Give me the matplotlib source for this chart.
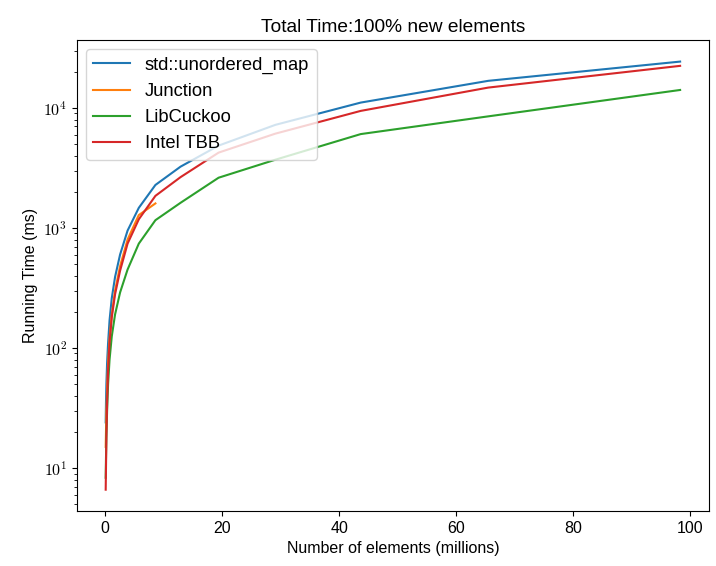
import matplotlib
matplotlib.use("Agg")
import matplotlib.pyplot as plt
from matplotlib.ticker import FuncFormatter
import numpy as np

plt.rcParams["font.family"] = ["Liberation Sans", "DejaVu Sans"]
plt.rcParams["mathtext.fontset"] = "cm"
plt.rcParams["font.size"] = 11.5

# Number of elements (millions)
elements = [0.1, 0.15, 0.22, 0.34, 0.51, 0.76, 1.14, 1.7, 2.56, 3.84,
            5.76, 8.6, 12.9, 19.4, 29.1, 43.7, 65.5, 98.3]

# Running time (ms)
std_map = [24, 35, 50, 75, 110, 170, 260, 390, 600, 950,
           1470, 2280, 3240, 4850, 7220, 11070, 16800, 24300]
junction = [15, 20, 30, 45, 75, 120, 190, 300, 480, 800,
            1280, 1600]
libcuckoo = [8.3, 12, 18, 30, 50, 80, 125, 190, 290, 450,
             740, 1160, 1620, 2620, 3700, 6050, 8500, 14100]
intel_tbb = [6.6, 10, 18, 35, 65, 110, 180, 280, 440, 740,
             1180, 1850, 2650, 4240, 6100, 9440, 14760, 22390]

fig = plt.figure(figsize=(7.16, 5.66), dpi=100)
ax = fig.add_axes([0.1075, 0.097, 0.8825, 0.832])

ax.plot(elements, std_map, label="std::unordered_map")
ax.plot(elements[:len(junction)], junction, label="Junction")
ax.plot(elements, libcuckoo, label="LibCuckoo")
ax.plot(elements, intel_tbb, label="Intel TBB")

ax.set_yscale("log")
# powers of ten drawn in Computer Modern, like the original
ax.yaxis.set_major_formatter(
    FuncFormatter(lambda v, pos: r"$\mathrm{10^{%d}}$" % round(np.log10(v)))
)
ax.set_title("Total Time:100% new elements")
ax.set_xlabel("Number of elements (millions)")
ax.set_ylabel("Running Time (ms)")
ax.legend(loc="upper left", fontsize=13.2)

fig.savefig("out.png")
